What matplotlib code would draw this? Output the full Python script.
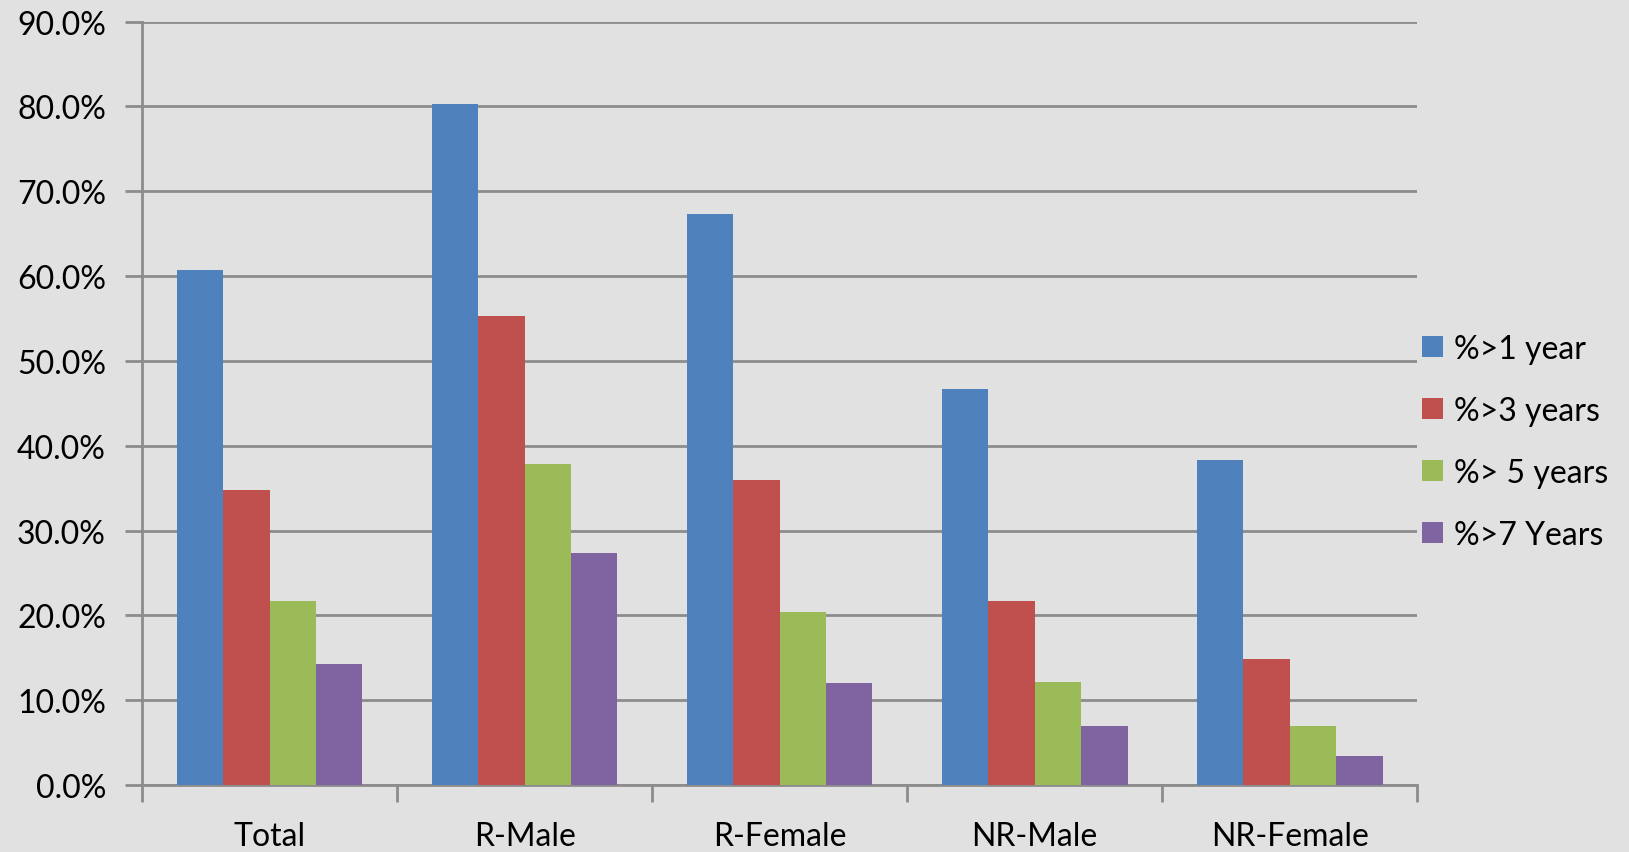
import numpy as np
import matplotlib
matplotlib.use("Agg")
import matplotlib.pyplot as plt
from matplotlib.ticker import FuncFormatter, FixedLocator

# categories and series (percent)
groups = ["Total", "R-Male", "R-Female", "NR-Male", "NR-Female"]
series_names = ["%>1 year", "%>3 years", "%> 5 years", "%>7 Years"]
over_1 = [60.7, 80.3, 67.3, 46.7, 38.3]
over_3 = [34.8, 55.3, 35.9, 21.7, 14.8]
over_5 = [21.7, 37.8, 20.4, 12.2, 7.0]
over_7 = [14.3, 27.3, 12.0, 7.0, 3.4]
y_ticks = [0, 10, 20, 30, 40, 50, 60, 70, 80, 90]

colors = ["#4F81BD", "#C0504D", "#9BBB59", "#8064A2"]
bg = "#E1E1E1"
grid_c = "#8C8C8C"

plt.rcParams["font.family"] = ["Lato", "DejaVu Sans"]

fig = plt.figure(figsize=(16.29, 8.53), dpi=100, facecolor=bg)
ax = fig.add_axes([0.0872, 0.0785, 0.7828, 0.8951], facecolor=bg)

x = np.arange(len(groups))
bar_w = 0.182
offsets = (np.arange(4) - 1.5) * bar_w
for vals, off, c, name in zip([over_1, over_3, over_5, over_7], offsets, colors, series_names):
    ax.bar(x + off, vals, width=bar_w, color=c, label=name, zorder=3)

ax.set_xlim(-0.5, len(groups) - 0.5)
ax.set_ylim(0, 90)
ax.set_yticks(y_ticks)
ax.yaxis.set_major_formatter(FuncFormatter(lambda v, p: f"{v:.1f}%"))
ax.grid(axis="y", color=grid_c, linewidth=2, zorder=1)

# category labels centred, tick marks on the group boundaries
ax.set_xticks(x)
ax.set_xticklabels(groups)
ax.xaxis.set_minor_locator(FixedLocator(np.arange(len(groups) + 1) - 0.5))
ax.tick_params(axis="x", which="major", length=0, labelsize=23, pad=26)
ax.tick_params(axis="x", which="minor", length=12, width=2, color=grid_c)
ax.tick_params(axis="y", length=12, width=2, color=grid_c, labelsize=23, pad=14)

for s in ["top", "right"]:
    ax.spines[s].set_visible(False)
for s in ["left", "bottom"]:
    ax.spines[s].set_color(grid_c)
    ax.spines[s].set_linewidth(2)

leg = fig.legend(loc="center left", bbox_to_anchor=(0.873, 0.481), frameon=False,
                 fontsize=23, handlelength=0.66, handleheight=0.66, handletextpad=0.35,
                 labelspacing=1.0, borderpad=0, borderaxespad=0)

fig.savefig("out.png", dpi=100, facecolor=bg)
